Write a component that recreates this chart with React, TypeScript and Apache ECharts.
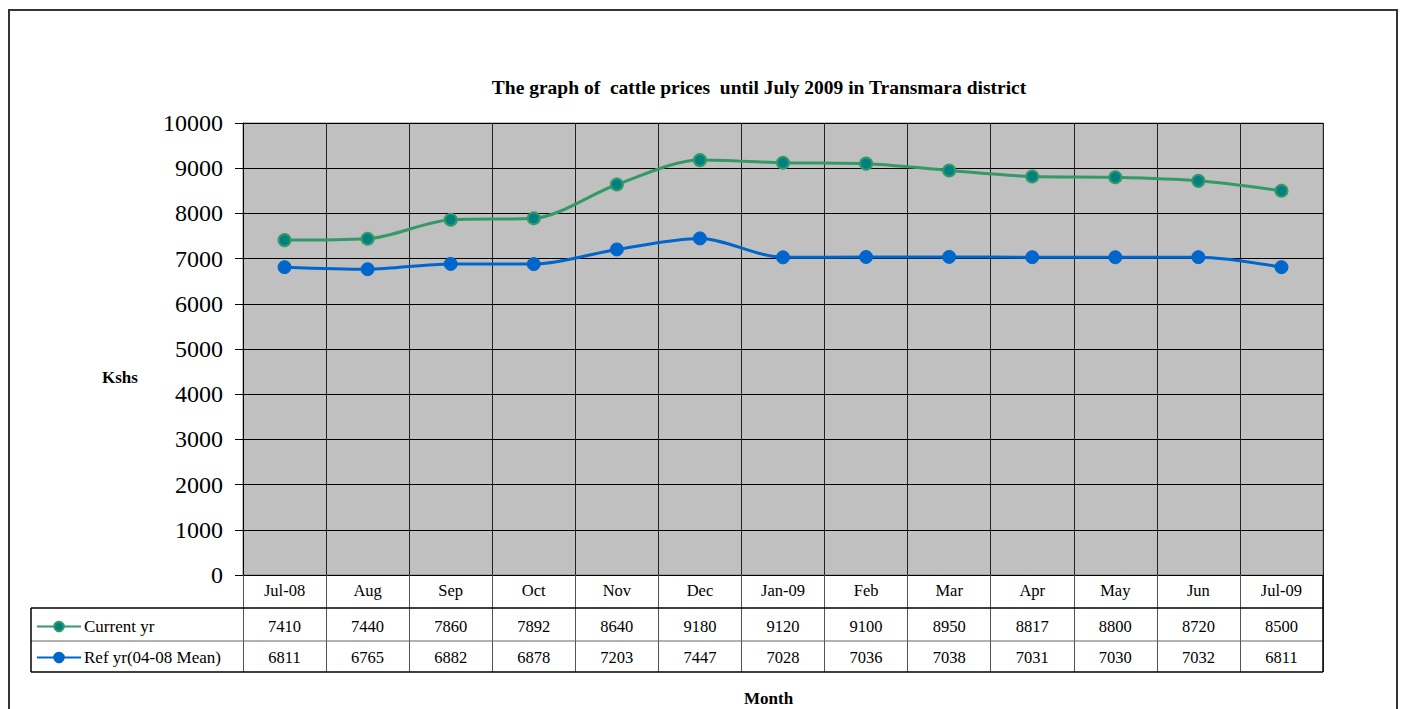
import React, { useEffect, useRef } from "react";
import * as echarts from "echarts";

const months = ["Jul-08", "Aug", "Sep", "Oct", "Nov", "Dec", "Jan-09", "Feb", "Mar", "Apr", "May", "Jun", "Jul-09"];
const currentYr = [7410, 7440, 7860, 7892, 8640, 9180, 9120, 9100, 8950, 8817, 8800, 8720, 8500];
const refYr = [6811, 6765, 6882, 6878, 7203, 7447, 7028, 7036, 7038, 7031, 7030, 7032, 6811];
const seriesNames = ["Current yr", "Ref yr(04-08 Mean)"];
const yTicks = { min: 0, max: 10000, interval: 1000 };

const FONT = "'Liberation Serif', 'Times New Roman', serif";
const W = 1403;
const H = 709;
const GL = 243;
const GT = 123;
const GR = 1323;
const GB = 575;
const ROW = 33;
const TABLE_LEFT = 31;
const TFS = 16.5;

export default function App() {
  const ref = useRef<HTMLDivElement>(null);
  useEffect(() => {
    document.body.style.margin = "0";
    const chart = echarts.init(ref.current!, null, { renderer: "svg" });
    const rowY1 = GB + ROW;
    const rowY2 = GB + ROW * 2;
    const rowY3 = GB + ROW * 3 - 2;
    const hl = (y: number, color = "#000", w = 1) => ({
      type: "line",
      shape: { x1: TABLE_LEFT, y1: y, x2: GR, y2: y },
      style: { stroke: color, lineWidth: w },
      z: 10,
    });
    const lbl = { fontFamily: FONT, fontSize: TFS, color: "#000", interval: 0 };
    chart.setOption({
      animation: false,
      backgroundColor: "#fff",
      title: {
        text: "The graph of  cattle prices  until July 2009 in Transmara district",
        left: 754,
        top: 72,
        textAlign: "center",
        textStyle: { fontFamily: FONT, fontSize: 19.5, fontWeight: "bold", color: "#000" },
      },
      grid: {
        left: GL,
        top: GT,
        right: W - GR,
        bottom: H - GB,
        show: true,
        backgroundColor: "#C0C0C0",
        borderColor: "#808080",
        borderWidth: 1,
      },
      legend: [
        {
          data: [seriesNames[0]],
          left: 36,
          top: GB + ROW + 10,
          itemWidth: 44,
          itemHeight: 12,
          itemGap: 0,
          padding: 0,
          textStyle: { fontFamily: FONT, fontSize: TFS + 0.5, color: "#000", padding: [0, 0, 0, -2] },
        },
        {
          data: [seriesNames[1]],
          left: 36,
          top: GB + ROW * 2 + 8,
          itemWidth: 44,
          itemHeight: 12,
          itemGap: 0,
          padding: 0,
          textStyle: { fontFamily: FONT, fontSize: TFS + 0.5, color: "#000", padding: [0, 0, 0, -2] },
        },
      ],
      xAxis: [
        {
          type: "category",
          data: months,
          boundaryGap: true,
          axisLine: { show: true, lineStyle: { color: "#000", width: 1 } },
          axisTick: { show: true, inside: false, length: ROW * 3 - 2, lineStyle: { color: "#555", width: 1 } },
          splitLine: { show: true, lineStyle: { color: "#222", width: 1 } },
          axisLabel: { ...lbl, margin: 7 },
        },
        {
          type: "category",
          data: currentYr.map(String),
          position: "bottom",
          offset: ROW + 1,
          axisLine: { show: false },
          axisTick: { show: false },
          splitLine: { show: false },
          axisLabel: { ...lbl, margin: 9 },
        },
        {
          type: "category",
          data: refYr.map(String),
          position: "bottom",
          offset: ROW * 2,
          axisLine: { show: false },
          axisTick: { show: false },
          splitLine: { show: false },
          axisLabel: { ...lbl, margin: 8 },
        },
      ],
      yAxis: {
        type: "value",
        min: yTicks.min,
        max: yTicks.max,
        interval: yTicks.interval,
        axisLine: { show: true, lineStyle: { color: "#000", width: 1 } },
        axisTick: { show: true, length: 8, lineStyle: { color: "#000" } },
        splitLine: { show: true, lineStyle: { color: "#000", width: 1 } },
        axisLabel: {
          fontFamily: FONT,
          fontSize: 24,
          color: "#000",
          margin: 20,
          formatter: (v: number) => String(v),
        },
      },
      series: [
        {
          name: seriesNames[0],
          type: "line",
          data: currentYr,
          smooth: 0.3,
          symbol: "circle",
          symbolSize: 12,
          lineStyle: { color: "#339966", width: 3 },
          itemStyle: { color: "#008080", borderColor: "#339966", borderWidth: 2 },
          z: 5,
        },
        {
          name: seriesNames[1],
          type: "line",
          data: refYr,
          smooth: 0.3,
          symbol: "circle",
          symbolSize: 13,
          lineStyle: { color: "#0066CC", width: 3 },
          itemStyle: { color: "#0066CC", borderColor: "#0066CC", borderWidth: 1 },
          z: 5,
        },
      ],
      graphic: [
        {
          type: "rect",
          shape: { x: 9, y: 10, width: 1388, height: 720 },
          style: { fill: "none", stroke: "#333", lineWidth: 2 },
          z: 0,
        },
        hl(rowY1, "#000", 1.5),
        hl(rowY2, "#666", 1),
        hl(rowY3, "#000", 1.5),
        {
          type: "line",
          shape: { x1: TABLE_LEFT, y1: rowY1, x2: TABLE_LEFT, y2: rowY3 },
          style: { stroke: "#000", lineWidth: 1.5 },
          z: 10,
        },
        {
          type: "line",
          shape: { x1: GR, y1: GB, x2: GR, y2: rowY3 },
          style: { stroke: "#000", lineWidth: 1.5 },
          z: 10,
        },
        {
          type: "text",
          left: 102,
          top: 369,
          style: { text: "Kshs", font: `bold 17px ${FONT}`, fill: "#000" },
        },
        {
          type: "text",
          left: 744,
          top: 690,
          style: { text: "Month", font: `bold 17px ${FONT}`, fill: "#000" },
        },
      ],
    });
    return () => chart.dispose();
  }, []);
  return <div ref={ref} style={{ width: W, height: H }} />;
}
